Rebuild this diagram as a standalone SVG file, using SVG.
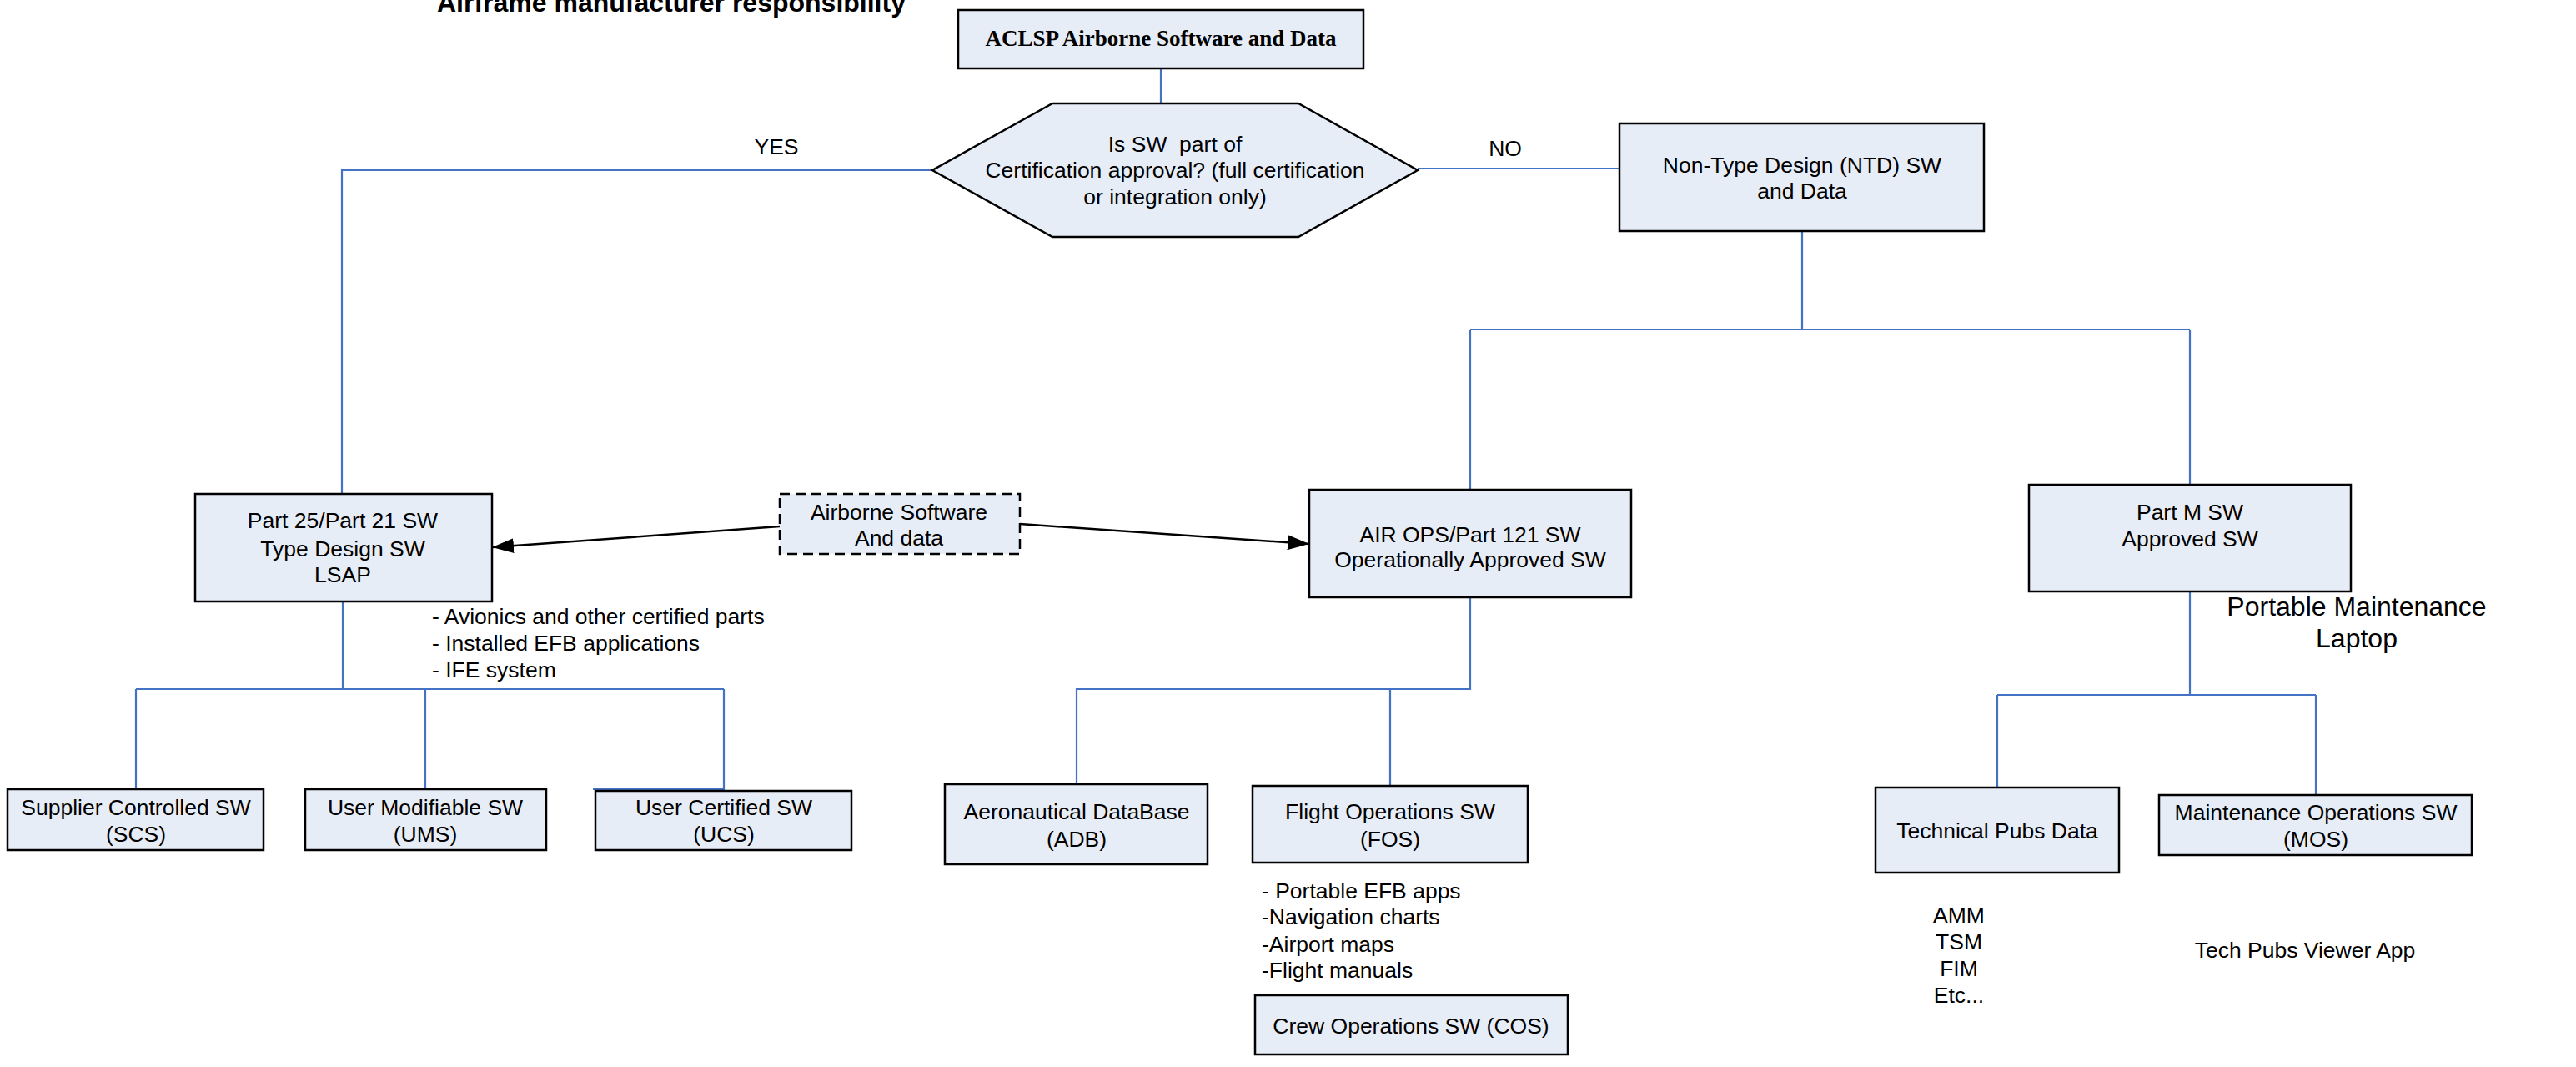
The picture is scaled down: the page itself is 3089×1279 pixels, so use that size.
<svg xmlns="http://www.w3.org/2000/svg" width="3089" height="1279" viewBox="0 0 3089 1279">
<style>
.box{fill:#E7EDF7;stroke:#000;stroke-width:2.5}
.dash{fill:#E7EDF7;stroke:#000;stroke-width:2.5;stroke-dasharray:12 7}
.t{font-family:"Liberation Sans",Arial,sans-serif;font-size:26.5px;fill:#000;text-anchor:middle}
.l{font-family:"Liberation Sans",Arial,sans-serif;font-size:26.5px;fill:#000}
.big{font-family:"Liberation Sans",Arial,sans-serif;font-size:32px;fill:#000;text-anchor:middle}
.c{fill:none;stroke:#4472C4;stroke-width:2.2}
.a{fill:none;stroke:#000;stroke-width:2.5}
</style>
<defs>
<marker id="ah" markerUnits="userSpaceOnUse" markerWidth="26" markerHeight="18" refX="26" refY="9" orient="auto">
<path d="M0,0 L26,9 L0,18 z" fill="#000"/>
</marker>
</defs>
<rect width="3089" height="1279" fill="#fff"/>
<text x="524" y="14" font-family="Liberation Sans,Arial,sans-serif" font-size="32" font-weight="bold">Airframe manufacturer responsibility</text>
<g id="connectors">
<path class="c" d="M1392 82 V124 H1423"/>
<path class="c" d="M1118 204 H410 V592"/>
<path class="c" d="M1700 202 H1942"/>
<path class="c" d="M2161 277 V395"/>
<path class="c" d="M1763 395 H2626"/>
<path class="c" d="M1763 395 V587"/>
<path class="c" d="M2626 395 V581"/>
<path class="c" d="M411 721 V826"/>
<path class="c" d="M163 826 H868"/>
<path class="c" d="M163 826 V946"/>
<path class="c" d="M510 826 V946"/>
<path class="c" d="M868 826 V946 H711"/>
<path class="c" d="M1763 716 V826 H1291 V940"/>
<path class="c" d="M1667 826 V942"/>
<path class="c" d="M2626 709 V833"/>
<path class="c" d="M2395 833 H2777"/>
<path class="c" d="M2395 833 V944"/>
<path class="c" d="M2777 833 V953"/>
<path class="a" d="M935 631 L590 656" marker-end="url(#ah)"/>
<path class="a" d="M1223 628 L1570 652" marker-end="url(#ah)"/>
<text class="t" x="931" y="185">YES</text>
<text class="t" x="1805" y="187">NO</text>
</g>
<g id="aclsp">
<rect class="box" x="1149" y="12" width="486" height="70"/>
<text x="1392" y="55" font-family="Liberation Serif,Times New Roman,serif" font-size="27" font-weight="bold" text-anchor="middle">ACLSP Airborne Software and Data</text>
</g>
<g id="decision">
<polygon class="box" points="1262,124 1557,124 1700,204 1557,284 1262,284 1118,204"/>
<text class="t" x="1409" y="182" xml:space="preserve">Is SW  part of</text>
<text class="t" x="1409" y="213">Certification approval? (full certification</text>
<text class="t" x="1409" y="245">or integration only)</text>
</g>
<g id="ntd">
<rect class="box" x="1942" y="148" width="437" height="129"/>
<text class="t" x="2161" y="207">Non-Type Design (NTD) SW</text>
<text class="t" x="2161" y="238">and Data</text>
</g>
<g id="part25">
<rect class="box" x="234" y="592" width="356" height="129"/>
<text class="t" x="411" y="633">Part 25/Part 21 SW</text>
<text class="t" x="411" y="667">Type Design SW</text>
<text class="t" x="411" y="698">LSAP</text>
</g>
<g id="part25-notes">
<text class="l" x="518" y="748">- Avionics and other certified parts</text>
<text class="l" x="518" y="780">- Installed EFB applications</text>
<text class="l" x="518" y="812">- IFE system</text>
</g>
<g id="airborne">
<rect class="dash" x="935" y="592" width="288" height="72"/>
<text class="t" x="1078" y="623">Airborne Software</text>
<text class="t" x="1078" y="654">And data</text>
</g>
<g id="airops">
<rect class="box" x="1570" y="587" width="386" height="129"/>
<text class="t" x="1763" y="650">AIR OPS/Part 121 SW</text>
<text class="t" x="1763" y="680">Operationally Approved SW</text>
</g>
<g id="partm">
<rect class="box" x="2433" y="581" width="386" height="128"/>
<text class="t" x="2626" y="623">Part M SW</text>
<text class="t" x="2626" y="655">Approved SW</text>
</g>
<g id="laptop">
<text class="big" x="2826" y="738">Portable Maintenance</text>
<text class="big" x="2826" y="776">Laptop</text>
</g>
<g id="scs">
<rect class="box" x="9" y="946" width="307" height="73"/>
<text class="t" x="163" y="977">Supplier Controlled SW</text>
<text class="t" x="163" y="1009">(SCS)</text>
</g>
<g id="ums">
<rect class="box" x="366" y="946" width="289" height="73"/>
<text class="t" x="510" y="977">User Modifiable SW</text>
<text class="t" x="510" y="1009">(UMS)</text>
</g>
<g id="ucs">
<rect class="box" x="714" y="948" width="307" height="71"/>
<text class="t" x="868" y="977">User Certified SW</text>
<text class="t" x="868" y="1009">(UCS)</text>
</g>
<g id="adb">
<rect class="box" x="1133" y="940" width="315" height="96"/>
<text class="t" x="1291" y="982">Aeronautical DataBase</text>
<text class="t" x="1291" y="1015">(ADB)</text>
</g>
<g id="fos">
<rect class="box" x="1502" y="942" width="330" height="92"/>
<text class="t" x="1667" y="982">Flight Operations SW</text>
<text class="t" x="1667" y="1015">(FOS)</text>
</g>
<g id="fos-notes">
<text class="l" x="1513" y="1077">- Portable EFB apps</text>
<text class="l" x="1513" y="1108">-Navigation charts</text>
<text class="l" x="1513" y="1141">-Airport maps</text>
<text class="l" x="1513" y="1172">-Flight manuals</text>
</g>
<g id="cos">
<rect class="box" x="1505" y="1193" width="375" height="71"/>
<text class="t" x="1692" y="1239">Crew Operations SW (COS)</text>
</g>
<g id="tpd">
<rect class="box" x="2249" y="944" width="292" height="102"/>
<text class="t" x="2395" y="1005">Technical Pubs Data</text>
</g>
<g id="mos">
<rect class="box" x="2589" y="953" width="375" height="72"/>
<text class="t" x="2777" y="983">Maintenance Operations SW</text>
<text class="t" x="2777" y="1015">(MOS)</text>
</g>
<g id="tpd-notes">
<text class="t" x="2349" y="1106">AMM</text>
<text class="t" x="2349" y="1138">TSM</text>
<text class="t" x="2349" y="1170">FIM</text>
<text class="t" x="2349" y="1202">Etc...</text>
</g>
<g id="viewer">
<text class="t" x="2764" y="1148">Tech Pubs Viewer App</text>
</g>
</svg>
